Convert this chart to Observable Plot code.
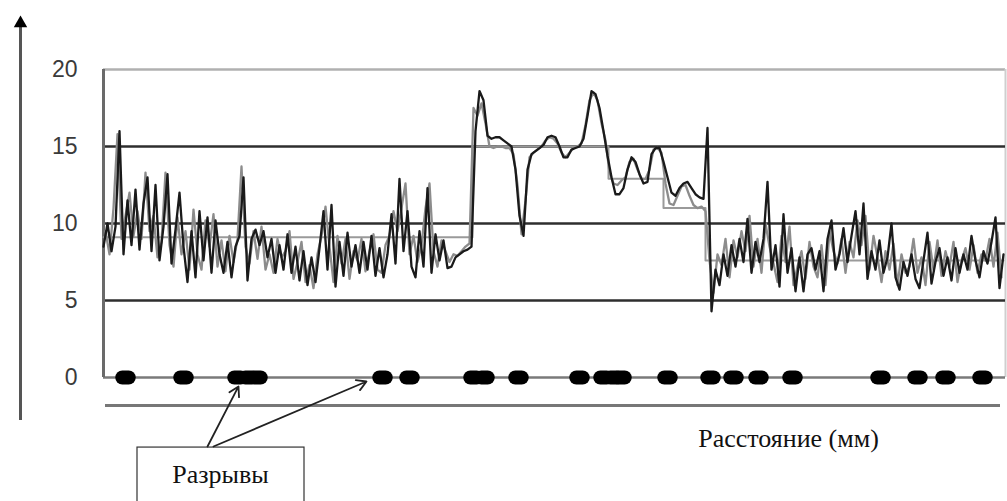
<!DOCTYPE html>
<html>
<head>
<meta charset="utf-8">
<script src="https://cdn.jsdelivr.net/npm/d3@7"></script>
<script src="https://cdn.jsdelivr.net/npm/@observablehq/plot@0.6"></script>
<style>
  html, body { margin: 0; padding: 0; background: #fff; }
  #chart svg { display: block; overflow: visible; }
</style>
</head>
<body>
<div id="chart"></div>
<script>
// ---- data ----
const yTicks = [0, 5, 10, 15, 20];
const sampleStep = 4;          // distance between samples
const blackStart = 0;          // first sample distance, dark profile
const grayStart = 2;           // first sample distance, light profile

const blackValues = [
  8.5,10.0,8.2,9.8,16.0,8.0,11.5,8.6,12.2,8.3,11.3,13.0,8.2,12.5,7.6,9.8,13.2,7.4,9.6,12.0,
  8.5,6.2,9.5,6.5,10.8,7.6,10.4,6.8,10.2,8.0,6.8,8.8,6.5,8.5,9.2,13.0,6.3,9.0,9.6,8.6,
  9.5,7.8,9.0,6.8,8.6,7.0,9.3,6.8,8.5,6.3,8.2,6.0,7.8,6.2,8.4,10.8,7.0,11.2,5.9,8.8,
  6.6,9.4,7.2,8.6,6.8,8.8,7.0,9.2,6.6,8.4,6.5,8.0,10.6,7.4,12.9,8.2,10.8,7.2,6.5,9.5,
  7.2,12.3,6.8,9.3,7.6,8.9,7.1,7.2,7.8,8.0,8.2,8.3,8.5,
  16.0,18.6,18.0,15.7,15.5,15.6,15.6,15.4,15.2,15.0,13.5,10.5,9.2,13.5,14.5,14.7,14.9,15.1,15.6,15.7,
  15.6,15.0,14.3,14.3,14.8,14.9,15.0,15.5,17.0,18.6,18.4,17.5,16.0,14.4,13.0,11.9,11.9,12.3,13.5,14.3,
  14.0,13.2,12.6,12.7,14.5,14.9,14.9,14.0,13.0,12.0,11.8,12.3,12.6,12.7,12.3,11.9,11.7,11.6,
  16.2,4.3,7.0,6.0,8.0,6.6,8.6,7.2,9.0,7.5,10.3,6.8,8.8,7.5,9.0,12.7,7.0,8.6,5.9,10.6,
  6.8,8.4,5.6,7.8,5.6,8.0,8.4,7.0,8.2,5.6,9.0,10.2,7.0,8.0,9.7,7.5,9.2,10.8,8.0,11.3,
  6.4,8.2,7.0,8.9,6.8,7.8,10.0,6.5,5.7,7.5,6.6,8.0,6.4,5.8,7.6,9.4,6.1,7.5,8.4,6.6,
  7.8,6.3,8.4,6.8,8.0,7.0,9.2,7.6,6.5,8.2,7.4,8.8,10.4,5.8,8.0
];

const grayValues = [
  9.5,8.0,11.0,15.8,9.0,10.5,12.0,9.2,10.8,9.0,13.3,9.5,10.5,7.8,8.8,13.3,8.6,7.2,10.4,8.0,
  9.5,7.0,10.9,8.0,7.0,10.2,8.5,10.6,7.2,8.9,6.9,9.2,7.5,9.0,13.7,8.5,7.4,9.5,7.7,9.8,
  7.0,8.0,6.8,9.0,7.8,8.2,9.5,6.4,7.5,8.8,6.2,7.3,5.8,8.0,9.2,11.1,8.5,6.2,9.2,7.4,
  9.0,6.4,8.2,7.6,9.0,6.9,8.2,9.3,7.0,6.8,8.6,9.2,10.8,9.5,11.0,12.6,8.0,9.2,7.5,8.6,
  11.0,12.6,8.2,7.2,8.9,8.2,7.5,8.0,7.9,8.2,8.5,8.7,17.5,
  17.0,17.8,16.5,15.0,14.9,15.0,15.0,14.9,14.9,14.5,12.5,9.3,11.5,14.3,14.6,14.8,15.0,15.4,15.6,15.5,
  15.2,14.6,14.3,14.6,14.9,15.0,15.2,16.4,18.0,18.5,18.0,16.5,15.4,13.3,12.6,12.5,12.8,13.0,14.0,14.2,
  13.5,12.9,12.9,13.5,14.8,14.9,14.6,12.6,11.3,11.2,11.8,12.4,12.5,11.8,11.2,11.0,11.1,10.8,
  7.6,5.5,8.0,7.3,9.0,6.5,8.9,7.8,9.5,8.2,10.5,7.2,9.0,6.8,10.0,8.5,7.4,6.2,9.2,7.5,
  9.8,6.0,7.2,8.2,6.4,8.8,7.2,6.5,8.6,6.0,9.5,8.2,7.4,9.0,6.8,8.8,7.8,10.2,8.6,10.5,
  7.0,9.2,7.8,6.2,8.2,7.0,8.7,6.0,8.0,6.8,7.2,9.0,6.8,7.8,6.0,8.8,7.0,8.9,6.6,8.2,
  7.2,8.8,6.2,7.6,8.4,7.0,8.6,6.8,8.0,7.6,9.0,7.2,9.4,6.5
];

// segment means (step line)
const meanX = [0, 369, 505, 560, 602, 900];
const meanY = [9.1, 15.0, 12.9, 11.0, 7.6, 7.6];

// break positions (distance)
const breaks = [22, 80, 134, 145, 154, 279, 306, 370, 381, 415, 476, 500, 510, 518, 564, 607, 630, 655, 689, 777, 814, 842, 879];

// labels & annotation anchors
const breakLabel = "Разрывы";
const xTitle = "Расстояние (мм)";
const annotationFrom = [{x: 104, y: -4.48}, {x: 110, y: -4.48}];
const annotationTo = [{x: 135, y: -0.58}, {x: 263, y: -0.26}];
const labelBox = {x1: 34, x2: 201, y1: -4.55, y2: -9};
const labelPos = {x: 117, y: -6.3};
const titlePos = {x: 685, y: -4.0};
const lowerLine = {y: -1.82, x1: 2, x2: 897};
const yAxisLine = {x: -83, y1: -2.8, y2: 23.0};
const frameRight = 902;

// ---- build tables ----
const black = blackValues.map((v, i) => ({x: blackStart + i * sampleStep, y: v}));
const gray = grayValues.map((v, i) => ({x: grayStart + i * sampleStep, y: v}));
const means = meanX.map((x, i) => ({x, y: meanY[i]}));
const arrows = annotationFrom.map((f, i) => ({x1: f.x, y1: f.y, x2: annotationTo[i].x, y2: annotationTo[i].y}));

const capsule = {
  draw(ctx, size) {
    const r = Math.sqrt(size / Math.PI);
    const h = r * 0.88, w = r * 0.4;
    ctx.moveTo(-w, -h);
    ctx.lineTo(w, -h);
    ctx.arc(w, 0, h, -Math.PI / 2, Math.PI / 2);
    ctx.lineTo(-w, h);
    ctx.arc(-w, 0, h, Math.PI / 2, 3 * Math.PI / 2);
    ctx.closePath();
  }
};

const chart = Plot.plot({
  width: 1007,
  height: 501,
  marginLeft: 103,
  marginRight: 4,
  marginTop: 69,
  marginBottom: 124,
  x: {domain: [0, 900], axis: null},
  y: {domain: [0, 20], axis: null},
  style: {background: "white", overflow: "visible"},
  marks: [
    // outer y axis with arrow
    Plot.ruleX([yAxisLine.x], {y1: yAxisLine.y1, y2: yAxisLine.y2, stroke: "#555", strokeWidth: 3}),
    Plot.dot([{x: yAxisLine.x, y: yAxisLine.y2}], {x: "x", y: "y", symbol: "triangle", r: 5, fill: "#000", stroke: "none"}),
    // frame and grid
    Plot.ruleY([20], {x1: 0, x2: frameRight, stroke: "#b0b0b0", strokeWidth: 2.5}),
    Plot.ruleX([frameRight], {y1: 0, y2: 20, stroke: "#cfcfcf", strokeWidth: 2}),
    Plot.ruleY([15, 10, 5], {x1: 0, x2: frameRight, stroke: "#2e2e2e", strokeWidth: 2.5}),
    Plot.ruleY([0], {x1: 0, x2: frameRight, stroke: "#7a7a7a", strokeWidth: 2.5}),
    Plot.ruleX([0], {y1: 0, y2: 20, stroke: "#6a6a6a", strokeWidth: 3}),
    Plot.ruleY([lowerLine.y], {x1: lowerLine.x1, x2: lowerLine.x2, stroke: "#777", strokeWidth: 3}),
    Plot.axisY(yTicks, {anchor: "left", tickSize: 0, tickPadding: 26, fontSize: 23, fill: "#3a3a3a",
      fontFamily: "Liberation Sans, Arial, sans-serif", label: null, tickFormat: d => String(d)}),
    // profiles
    Plot.line(means, {x: "x", y: "y", curve: "step-after", stroke: "#9a9a9a", strokeWidth: 2}),
    Plot.line(gray, {x: "x", y: "y", stroke: "#8c8c8c", strokeWidth: 2.3, strokeLinejoin: "round"}),
    Plot.line(black, {x: "x", y: "y", stroke: "#1a1a1a", strokeWidth: 2.3, strokeLinejoin: "round"}),
    // breaks
    Plot.dot(breaks, {x: d => d, y: () => 0, symbol: capsule, r: 8, fill: "#000", stroke: "none"}),
    // annotation
    Plot.rect([labelBox], {x1: "x1", x2: "x2", y1: "y1", y2: "y2", fill: "white", stroke: "#333", strokeWidth: 1.2}),
    Plot.arrow(arrows, {x1: "x1", y1: "y1", x2: "x2", y2: "y2", stroke: "#222", strokeWidth: 1.8, headLength: 9}),
    Plot.text([labelPos], {x: "x", y: "y", text: () => breakLabel, fontSize: 26, fill: "#111",
      fontFamily: "Liberation Serif, Times New Roman, serif"}),
    Plot.text([titlePos], {x: "x", y: "y", text: () => xTitle, fontSize: 26, fill: "#111",
      fontFamily: "Liberation Serif, Times New Roman, serif"})
  ]
});
document.getElementById("chart").appendChild(chart);
</script>
</body>
</html>
